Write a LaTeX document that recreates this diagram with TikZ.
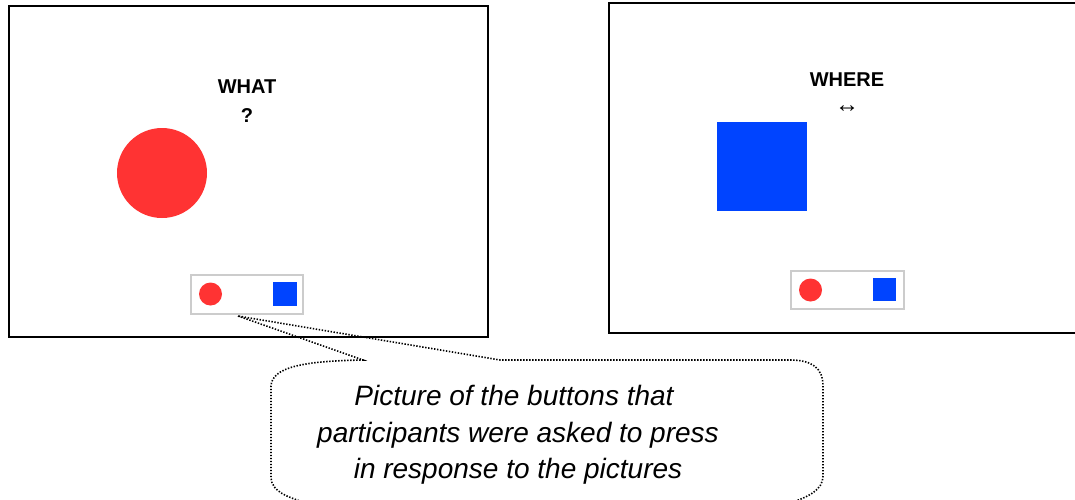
\documentclass[tikz,border=0pt]{standalone}
\usepackage{fontspec}
\setmainfont{Liberation Sans}
\definecolor{btnred}{HTML}{FF3333}
\definecolor{btnblue}{HTML}{0044FF}
\definecolor{barline}{HTML}{CCCCCC}
\begin{document}
\begin{tikzpicture}[x=1pt,y=-1pt,
  screen/.style={draw=black, line width=2pt, inner sep=0, anchor=north west},
  bigdot/.style={circle, fill=btnred, inner sep=0, minimum size=90pt},
  bigsquare/.style={rectangle, fill=btnblue, inner sep=0, minimum width=90pt, minimum height=89pt},
  buttonbar/.style={draw=barline, line width=1.5pt, inner sep=0, anchor=north west},
  smalldot/.style={circle, fill=btnred, inner sep=0, minimum size=23pt},
  smallsquare/.style={rectangle, fill=btnblue, inner sep=0, minimum size=24pt},
  cue/.style={font=\bfseries\fontsize{20}{24}\selectfont, inner sep=0, anchor=base},
  caption/.style={font=\itshape\fontsize{28}{36}\selectfont, inner sep=0, anchor=base},
  dotline/.style={line width=1.6pt, dash pattern=on 1.4pt off 1.6pt}]
\useasboundingbox (0,0) rectangle (1075,499);
\clip (0,0) rectangle (1075,499);

% left screen: "what" task
\node[screen, minimum width=479pt, minimum height=331pt] (leftscreen) at (8,5) {};
\node[bigdot] (redball) at (162,173) {};
\node[cue] (what) at (247,93) {WHAT};
\node[cue] (whatq) at (247,122) {?};
\node[buttonbar, minimum width=112pt, minimum height=39pt] (barL) at (190,274) {};
\node[smalldot] (redL) at (210.5,294) {};
\node[smallsquare] (blueL) at (285,294) {};

% right screen: "where" task
\node[screen, minimum width=480pt, minimum height=330pt] (rightscreen) at (608,1.5) {};
\node[bigsquare] (bluebox) at (762,166.5) {};
\node[cue] (where) at (847,86) {WHERE};
\node[font=\fontsize{24}{26}\selectfont, inner sep=0] (whereArrow) at (847,109) {↔};
\node[buttonbar, minimum width=113pt, minimum height=38pt] (barR) at (790,270) {};
\node[smalldot] (redR) at (810.5,290) {};
\node[smallsquare, minimum size=23pt] (blueR) at (884.5,289.5) {};

% callout pointing at the button bar
\coordinate (tip) at (238,316);
\draw[dotline] (tip) -- (363,360)
  .. controls (300,361) and (272,368) .. (271,386)
  -- (271,478)
  .. controls (272,492) and (288,497) .. (306,503)
  -- (790,503)
  .. controls (808,497) and (823,490) .. (823,476)
  -- (823,386)
  .. controls (823,368) and (812,360) .. (790,360)
  -- (500,360) -- cycle;
\node[caption] (cap1) at (514,405) {Picture of the buttons that};
\node[caption] (cap2) at (518,442) {participants were asked to press};
\node[caption] (cap3) at (518,478) {in response to the pictures};
\end{tikzpicture}
\end{document}
